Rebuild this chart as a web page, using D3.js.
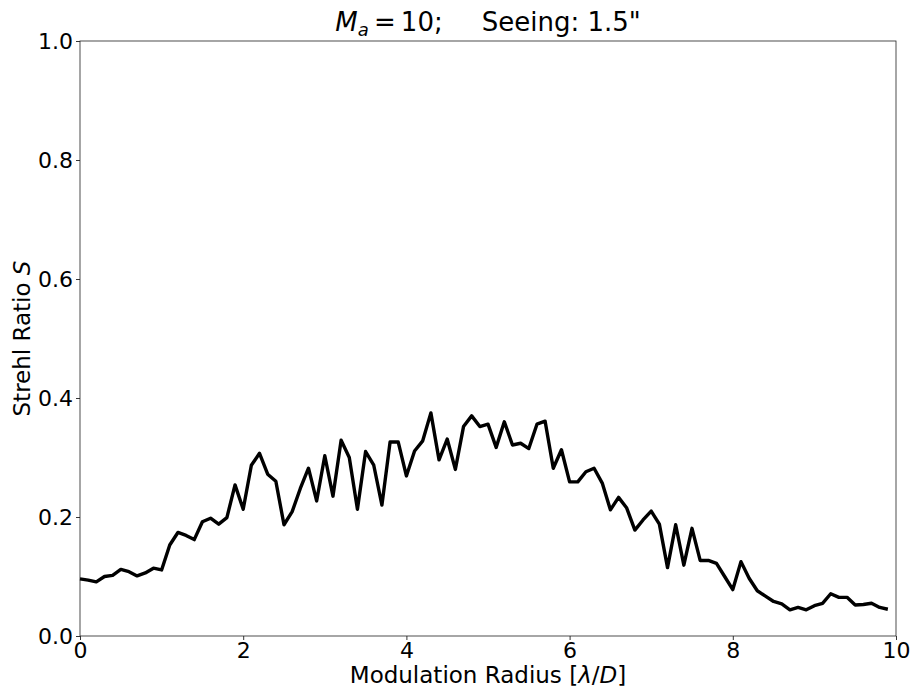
<!DOCTYPE html>
<html>
<head>
<meta charset="utf-8">
<script src="https://cdn.jsdelivr.net/npm/d3@7"></script>
<style>
  body { margin: 0; background: #fff; }
  svg text { font-family: "DejaVu Sans", sans-serif; fill: #000; }
</style>
</head>
<body>
<svg id="chart" width="912" height="689"></svg>
<script>
// modulation radius samples, step 0.1 from 0 to 9.9
const radius = d3.range(100).map((i) => +(i * 0.1).toFixed(1));

// Strehl ratio
const strehl = [
  0.096, 0.094, 0.091, 0.100, 0.102, 0.112, 0.108, 0.101, 0.106, 0.114,
  0.111, 0.153, 0.174, 0.169, 0.162, 0.192, 0.198, 0.188, 0.199, 0.254,
  0.213, 0.287, 0.307, 0.272, 0.260, 0.187, 0.209, 0.248, 0.282, 0.227,
  0.303, 0.235, 0.329, 0.300, 0.213, 0.310, 0.287, 0.220, 0.326, 0.326,
  0.269, 0.311, 0.328, 0.375, 0.296, 0.331, 0.280, 0.352, 0.370, 0.352,
  0.356, 0.317, 0.360, 0.321, 0.324, 0.315, 0.356, 0.361, 0.282, 0.313,
  0.259, 0.259, 0.276, 0.282, 0.257, 0.212, 0.233, 0.215, 0.178, 0.195,
  0.210, 0.188, 0.115, 0.187, 0.119, 0.181, 0.127, 0.127, 0.122, 0.100,
  0.078, 0.125, 0.097, 0.076, 0.067, 0.058, 0.054, 0.044, 0.048, 0.044,
  0.051, 0.055, 0.071, 0.065, 0.065, 0.052, 0.053, 0.055, 0.048, 0.045
];

const xTicks = [0, 2, 4, 6, 8, 10];
const yTicks = [0.0, 0.2, 0.4, 0.6, 0.8, 1.0];

const svg = d3.select("#chart");
const margin = { top: 41, right: 16, bottom: 53, left: 80 };
const width = +svg.attr("width");
const height = +svg.attr("height");
const innerWidth = width - margin.left - margin.right;
const innerHeight = height - margin.top - margin.bottom;

const g = svg.append("g").attr("transform", `translate(${margin.left},${margin.top})`);

/* scales */
const xScale = d3.scaleLinear().domain([0, 10]).range([0, innerWidth]);
const yScale = d3.scaleLinear().domain([0, 1]).range([innerHeight, 0]);

/* axes */
const xAxis = d3.axisBottom(xScale).tickValues(xTicks).tickFormat(d3.format("d")).tickSize(4).tickPadding(2);
const yAxis = d3.axisLeft(yScale).tickValues(yTicks).tickFormat(d3.format(".1f")).tickSize(4).tickPadding(3);

const gx = g.append("g").attr("transform", `translate(0,${innerHeight})`).call(xAxis);
const gy = g.append("g").call(yAxis);
[gx, gy].forEach((a) => {
  a.attr("font-size", 22).attr("font-family", "DejaVu Sans");
  a.select(".domain").remove();
  a.selectAll("line").attr("stroke", "#000").attr("stroke-width", 0.8);
  a.selectAll("text").attr("fill", "#000");
});

/* frame */
g.append("rect")
  .attr("width", innerWidth)
  .attr("height", innerHeight)
  .attr("fill", "none")
  .attr("stroke", "#222")
  .attr("stroke-width", 0.8);

/* line */
const line = d3.line()
  .x((d, i) => xScale(radius[i]))
  .y((d) => yScale(d));

g.append("path")
  .datum(strehl)
  .attr("fill", "none")
  .attr("stroke", "#000")
  .attr("stroke-width", 3.4)
  .attr("stroke-linejoin", "round")
  .attr("d", line);

/* title */
const title = svg.append("text")
  .attr("x", margin.left + innerWidth / 2)
  .attr("y", 31)
  .attr("text-anchor", "middle")
  .style("font-size", "26px");
title.append("tspan").style("font-style", "italic").text("M");
title.append("tspan").style("font-style", "italic").style("font-size", "18px").attr("dy", 5).text("a");
title.append("tspan").attr("dy", -5).text("\u2009=\u200910;");
title.append("tspan").text("\u2003\u2002Seeing: 1.5\"");

/* x label */
svg.append("text")
  .attr("x", margin.left + innerWidth / 2)
  .attr("y", 683)
  .attr("text-anchor", "middle")
  .style("font-size", "23px")
  .html("Modulation Radius [<tspan font-style='italic'>\u03bb</tspan>/<tspan font-style='italic'>D</tspan>]");

/* y label */
svg.append("text")
  .attr("transform", `translate(30,${margin.top + innerHeight / 2}) rotate(-90)`)
  .attr("text-anchor", "middle")
  .style("font-size", "23px")
  .html("Strehl Ratio <tspan font-style='italic'>S</tspan>");
</script>
</body>
</html>
